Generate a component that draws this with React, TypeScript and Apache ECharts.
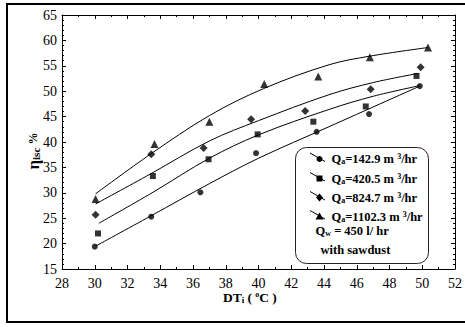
import React, { useEffect, useRef } from 'react';
import * as echarts from 'echarts';

const FONT = 'Liberation Serif, Times New Roman, Times, serif';

// Axis ranges / ticks
const xRange = { min: 28, max: 52, interval: 2 };
const yRange = { min: 15, max: 65, interval: 5 };

// Measured points
const circleX = [30.0, 33.45, 36.45, 39.85, 43.55, 46.75, 49.85];
const circleY = [19.4, 25.3, 30.1, 37.8, 42.0, 45.5, 51.0];
const squareX = [30.2, 33.55, 36.95, 39.95, 43.35, 46.55, 49.65];
const squareY = [22.0, 33.3, 36.6, 41.5, 44.0, 47.0, 53.0];
const diamondX = [30.05, 33.45, 36.65, 39.55, 42.85, 46.85, 49.9];
const diamondY = [25.7, 37.6, 38.8, 44.5, 46.1, 50.4, 54.7];
const triangleX = [30.05, 33.65, 37.0, 40.35, 43.65, 46.8, 50.35];
const triangleY = [28.8, 39.6, 44.0, 51.4, 52.9, 56.7, 58.6];

// Fitted curves
const fitCircleX = [30.05, 33.4, 37.0, 40.0, 44.3, 49.85];
const fitCircleY = [19.5, 25.4, 31.8, 36.8, 43.0, 51.0];
const fitSquareX = [30.25, 33.5, 37.0, 40.0, 44.3, 47.0, 49.85];
const fitSquareY = [24.0, 30.0, 36.8, 41.4, 46.4, 49.0, 51.1];
const fitDiamondX = [30.05, 33.4, 37.0, 40.0, 44.3, 47.0, 49.75];
const fitDiamondY = [27.8, 33.7, 40.2, 44.2, 49.3, 51.7, 53.5];
const fitTriangleX = [30.05, 33.4, 37.0, 40.3, 44.3, 46.8, 50.35];
const fitTriangleY = [29.8, 37.6, 45.2, 50.5, 55.2, 56.9, 58.6];

const flowRates = ['142.9', '420.5', '824.7', '1102.3'];
const symbols = ['circle', 'rect', 'diamond', 'triangle'];
const waterFlow = '450';
const mediumLabel = 'with sawdust';

const zip = (xs: number[], ys: number[]) => xs.map((x, i) => [x, ys[i]]);

const pointSets = [
  zip(circleX, circleY),
  zip(squareX, squareY),
  zip(diamondX, diamondY),
  zip(triangleX, triangleY),
];
const fitSets = [
  zip(fitCircleX, fitCircleY),
  zip(fitSquareX, fitSquareY),
  zip(fitDiamondX, fitDiamondY),
  zip(fitTriangleX, fitTriangleY),
];

const symbolSizes = [6, 6, 8, 8];

const richBase = {
  q: { fontFamily: FONT, fontWeight: 'bold', fontSize: 12.5, color: '#000' },
  sub: { fontFamily: FONT, fontWeight: 'bold', fontSize: 8, verticalAlign: 'bottom', color: '#000' },
  sup: { fontFamily: FONT, fontWeight: 'bold', fontSize: 8, verticalAlign: 'top', color: '#000' },
};

function markerGraphic(kind: string, cx: number, cy: number) {
  const style = { fill: '#000' };
  if (kind === 'circle') return { type: 'circle', shape: { cx, cy, r: 3 }, style };
  if (kind === 'rect') return { type: 'rect', shape: { x: cx - 3, y: cy - 3, width: 6, height: 6 }, style };
  if (kind === 'diamond')
    return { type: 'polygon', shape: { points: [[cx, cy - 4], [cx + 3.5, cy], [cx, cy + 4], [cx - 3.5, cy]] }, style };
  return { type: 'polygon', shape: { points: [[cx, cy - 4], [cx + 4, cy + 3], [cx - 4, cy + 3]] }, style };
}

export default function App() {
  const ref = useRef<HTMLDivElement>(null);

  useEffect(() => {
    if (!ref.current) return;
    const chart = echarts.init(ref.current, undefined, { renderer: 'svg' });

    const axisBase = {
      type: 'value',
      axisLine: { show: true, onZero: false, lineStyle: { color: '#000', width: 1 } },
      axisTick: { show: true, inside: true, length: 4, lineStyle: { color: '#000', width: 1 } },
      splitLine: { show: false },
    };

    const xLabel = { fontFamily: FONT, fontSize: 14, color: '#000', margin: 7 };
    const yLabel = { fontFamily: FONT, fontSize: 14, color: '#000', margin: 5 };

    const legendRowsY = [159, 178.5, 197.5, 216.5];
    const legendGraphics: any[] = [
      {
        type: 'rect',
        shape: { x: 295.5, y: 147.5, width: 133, height: 116, r: 11 },
        style: { fill: 'none', stroke: '#222', lineWidth: 1 },
      },
    ];
    flowRates.forEach((q, i) => {
      const yc = legendRowsY[i];
      legendGraphics.push({
        type: 'line',
        shape: { x1: 310, y1: yc - 6, x2: 325, y2: yc + 2.5 },
        style: { stroke: '#000', lineWidth: 1 },
      });
      legendGraphics.push(markerGraphic(symbols[i], 319.5, yc));
      legendGraphics.push({
        type: 'text',
        style: {
          x: 331.5,
          y: yc,
          align: 'left',
          verticalAlign: 'middle',
          text: `{q|Q}{sub|a}{q|=${q} m }{sup|3}{q|/hr}`,
          rich: richBase,
        },
      });
    });
    legendGraphics.push({
      type: 'text',
      style: {
        x: 315.5,
        y: 231,
        align: 'left',
        verticalAlign: 'middle',
        text: `{q|Q}{sub|w}{q| = ${waterFlow} l/ hr}`,
        rich: richBase,
      },
    });
    legendGraphics.push({
      type: 'text',
      style: {
        x: 320.5,
        y: 250,
        align: 'left',
        verticalAlign: 'middle',
        text: `{q|${mediumLabel}}`,
        rich: richBase,
      },
    });

    const option: any = {
      animation: false,
      backgroundColor: '#fff',
      textStyle: { fontFamily: FONT },
      grid: { left: 62, right: 8, top: 15, bottom: 58 },
      xAxis: [
        {
          ...axisBase,
          position: 'bottom',
          min: xRange.min,
          max: xRange.max,
          interval: xRange.interval,
          minorTick: { show: true, splitNumber: 2, length: 2, lineStyle: { color: '#000' } },
          axisLabel: xLabel,
        },
        {
          ...axisBase,
          position: 'top',
          min: xRange.min,
          max: xRange.max,
          interval: xRange.interval,
          minorTick: { show: true, splitNumber: 2, length: 2, lineStyle: { color: '#000' } },
          axisLabel: { show: false },
        },
      ],
      yAxis: [
        {
          ...axisBase,
          position: 'left',
          min: yRange.min,
          max: yRange.max,
          interval: yRange.interval,
          minorTick: { show: true, splitNumber: 5, length: 2, lineStyle: { color: '#000' } },
          axisLabel: yLabel,
        },
        {
          ...axisBase,
          position: 'right',
          min: yRange.min,
          max: yRange.max,
          interval: yRange.interval,
          minorTick: { show: true, splitNumber: 5, length: 2, lineStyle: { color: '#000' } },
          axisLabel: { show: false },
        },
      ],
      series: [
        ...fitSets.map((d, i) => ({
          type: 'line',
          name: 'fit' + i,
          data: d,
          xAxisIndex: 0,
          yAxisIndex: 0,
          showSymbol: false,
          smooth: 0.35,
          lineStyle: { color: '#000', width: 1 },
          silent: true,
        })),
        ...pointSets.map((d, i) => ({
          type: 'scatter',
          name: 'Qa=' + flowRates[i],
          data: d,
          xAxisIndex: 0,
          yAxisIndex: 0,
          symbol: symbols[i],
          symbolSize: symbolSizes[i],
          itemStyle: { color: '#000' },
        })),
      ],
      graphic: [
        {
          type: 'rect',
          shape: { x: 7, y: 4, width: 470, height: 318 },
          style: { fill: 'none', stroke: '#000', lineWidth: 2 },
          silent: true,
        },
        ...legendGraphics,
        {
          type: 'text',
          style: {
            x: 250,
            y: 297,
            align: 'center',
            verticalAlign: 'middle',
            text: '{b|DT}{s|i}{b|( }{p|o}{b|C )}',
            rich: {
              b: { fontFamily: FONT, fontWeight: 'bold', fontSize: 13.5, color: '#000' },
              s: { fontFamily: FONT, fontWeight: 'bold', fontSize: 9, verticalAlign: 'bottom', color: '#000', padding: [0, 3, 0, 0] },
              p: { fontFamily: FONT, fontWeight: 'bold', fontSize: 8, verticalAlign: 'top', color: '#000' },
            },
          },
        },
        {
          type: 'text',
          x: 33,
          y: 151,
          rotation: Math.PI / 2,
          style: {
            x: 0,
            y: 0,
            align: 'center',
            verticalAlign: 'middle',
            text: '{e|η}{s|isc} {b|%}',
            rich: {
              e: { fontFamily: FONT, fontWeight: 'bold', fontSize: 17, color: '#000' },
              s: { fontFamily: FONT, fontWeight: 'bold', fontSize: 11, color: '#000', verticalAlign: 'bottom' },
              b: { fontFamily: FONT, fontWeight: 'bold', fontSize: 12, color: '#000' },
            },
          },
        },
      ],
    };

    chart.setOption(option);
    return () => chart.dispose();
  }, []);

  return (
    <div
      ref={ref}
      style={{ position: 'fixed', left: 0, top: 0, width: 465, height: 327, background: '#fff' }}
    />
  );
}
